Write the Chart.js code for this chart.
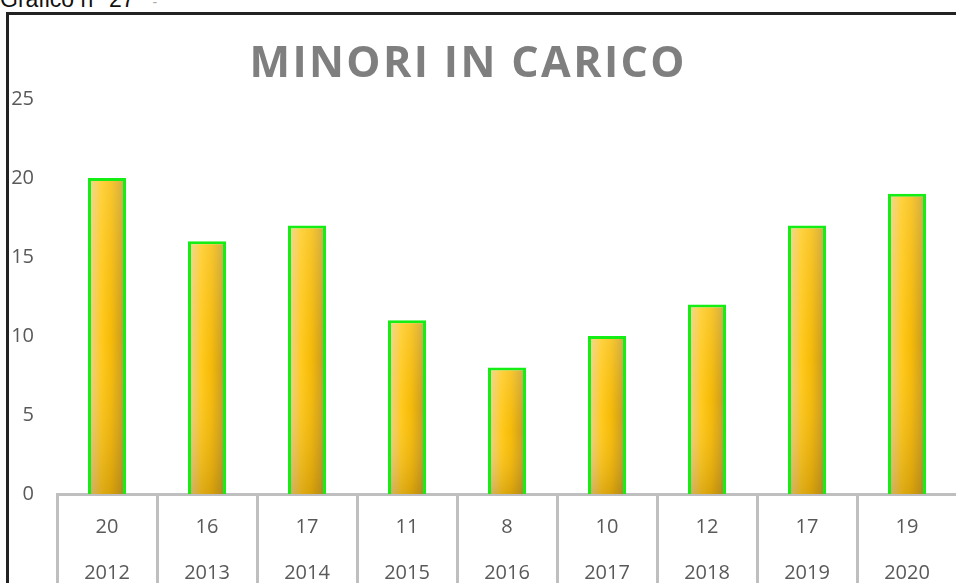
<!DOCTYPE html>
<html><head><meta charset="utf-8">
<script src="https://cdn.jsdelivr.net/npm/chart.js@4"></script>
<style>
html,body{margin:0;padding:0;background:#fff;overflow:hidden;width:956px;height:583px;position:relative;}
#cap{position:absolute;left:0;top:-12px;font:23px/23px "Liberation Sans",Arial,sans-serif;color:#111;white-space:nowrap;}
#cap span{color:#aaa;font-size:14px;margin-left:18px;}
#frame{position:absolute;left:6px;top:12px;width:1000px;height:600px;border-left:3px solid #222;border-top:3px solid #222;}
canvas{display:block;}
</style></head><body>
<div id="cap">Grafico n° 27<span>-</span></div>
<div id="frame"><canvas id="c" width="1000" height="600"></canvas></div>
<script>
const years = ['2012','2013','2014','2015','2016','2017','2018','2019','2020'];
const values = [20,16,17,11,8,10,12,17,19];
const yMin = 0, yMax = 25, yStep = 5;
const chartTitle = 'MINORI IN CARICO';

const BAR_FRAC = 0.38;
const FONT = '"Open Sans", "DejaVu Sans", sans-serif';

function barFill(c){
  const ch = c.chart, xs = ch.scales && ch.scales.x;
  if (!xs || !ch.chartArea || c.dataIndex === undefined) return '#f5bd0a';
  const cx = xs.getPixelForValue(c.dataIndex);
  const w = (xs.width / years.length) * BAR_FRAC;
  const g = ch.ctx.createLinearGradient(cx - w/2, 0, cx + w/2, 0);
  g.addColorStop(0, '#cdc3a6');
  g.addColorStop(0.12, '#efd074');
  g.addColorStop(0.35, '#ffc91e');
  g.addColorStop(0.6, '#f6bb08');
  g.addColorStop(0.85, '#d3a31a');
  g.addColorStop(1, '#a59474');
  return g;
}

const shadePlugin = {
  id: 'shade',
  afterDatasetsDraw(chart){
    const ctx = chart.ctx;
    const meta = chart.getDatasetMeta(0);
    const bw = 3;
    meta.data.forEach(el => {
      const {x, y, base, width} = el.getProps(['x','y','base','width'], true);
      const top = y + bw, left = x - width/2 + bw, w = width - 2*bw;
      if (base - top <= 0) return;
      const g = ctx.createLinearGradient(0, top, 0, base);
      g.addColorStop(0, 'rgba(255,235,160,0.25)');
      g.addColorStop(0.5, 'rgba(255,220,120,0)');
      g.addColorStop(1, 'rgba(120,80,10,0.25)');
      ctx.save();
      ctx.fillStyle = g;
      ctx.fillRect(left, top, w, base - top);
      ctx.restore();
    });
  }
};

const titlePlugin = {
  id: 'bigTitle',
  afterDraw(chart){
    const ctx = chart.ctx;
    ctx.save();
    ctx.font = 'bold 43px ' + FONT;
    ctx.fillStyle = '#7f7f7f';
    ctx.textBaseline = 'alphabetic';
    ctx.textAlign = 'left';
    ctx.letterSpacing = '0px';
    const targetW = 435;
    const w0 = ctx.measureText(chartTitle).width;
    const sp = (targetW - w0) / (chartTitle.length - 1);
    ctx.letterSpacing = sp + 'px';
    const cx = 458;
    ctx.fillText(chartTitle, cx - targetW/2, 62);
    ctx.restore();
  }
};

new Chart(document.getElementById('c'), {
  type: 'bar',
  data: {
    labels: years.map((y, i) => [String(values[i]), y]),
    datasets: [{
      data: values,
      backgroundColor: barFill,
      borderColor: '#14ee14',
      borderWidth: 3,
      borderSkipped: 'start',
      barPercentage: BAR_FRAC,
      categoryPercentage: 1
    }]
  },
  options: {
    responsive: false,
    animation: false,
    devicePixelRatio: 1,
    layout: { padding: { top: 84, right: 52, left: 0, bottom: 0 } },
    plugins: { legend: { display: false }, title: { display: false }, tooltip: { enabled: false } },
    scales: {
      x: {
        afterFit(s){ s.height = 121; },
        grid: { display: true, drawOnChartArea: false, drawTicks: true, tickLength: 110, offset: true, color: '#bfbfbf', lineWidth: 3 },
        border: { display: true, color: '#bfbfbf', width: 3 },
        ticks: { color: '#595959', font: { family: FONT, size: 20, lineHeight: 2.3 }, padding: -100, maxRotation: 0, autoSkip: false }
      },
      y: {
        min: yMin, max: yMax,
        afterFit(s){ s.width = 48; },
        grid: { display: false, drawTicks: false },
        border: { display: false },
        ticks: { stepSize: yStep, color: '#595959', font: { family: FONT, size: 20 }, padding: 23 }
      }
    }
  },
  plugins: [shadePlugin, titlePlugin]
});
</script>
</body></html>
